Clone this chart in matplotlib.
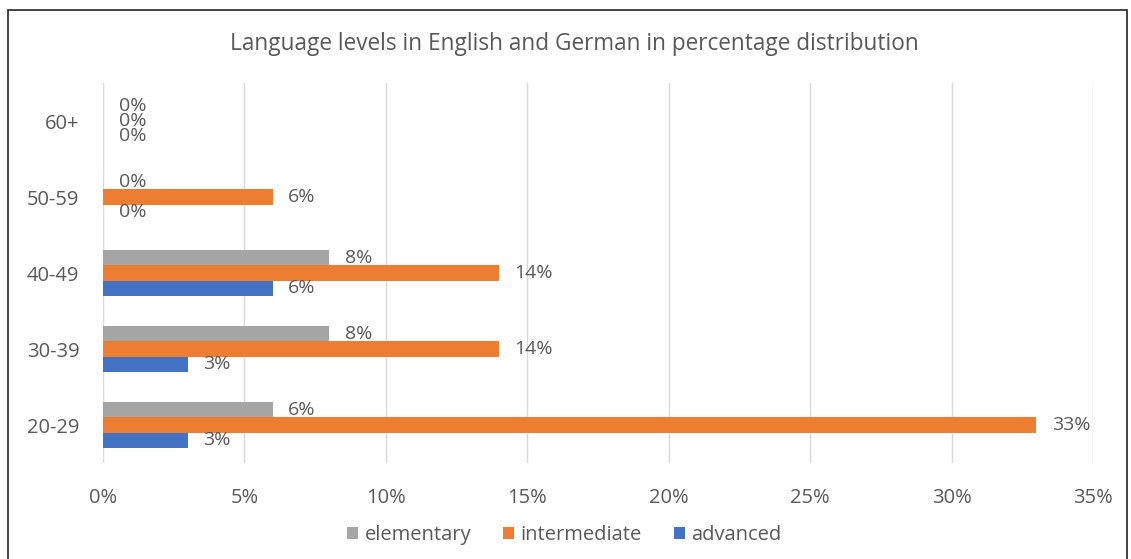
import matplotlib.pyplot as plt
import numpy as np

plt.rcParams['font.family'] = ['Open Sans', 'DejaVu Sans']

age_groups = ["20-29", "30-39", "40-49", "50-59", "60+"]
elementary = [6, 8, 8, 0, 0]
intermediate = [33, 14, 14, 6, 0]
advanced = [3, 3, 6, 0, 0]
x_ticks = [0, 5, 10, 15, 20, 25, 30, 35]

txt = "#595959"
fig = plt.figure(figsize=(11.31, 5.59), dpi=100)
ax = fig.add_axes([0.0911, 0.1717, 0.8753, 0.6798])

# outer frame of the chart
fig.patches.append(plt.Rectangle((8 / 1131, -0.01), 1119 / 1131, 1 - 10 / 559 + 0.01,
                                 transform=fig.transFigure, fill=False,
                                 edgecolor="#222222", linewidth=1.2))

y = np.arange(len(age_groups))
h = 0.2
series = [
    ("elementary", elementary, "#A5A5A5", h),
    ("intermediate", intermediate, "#ED7D31", 0),
    ("advanced", advanced, "#4472C4", -h),
]
for name, vals, col, off in series:
    bars = ax.barh(y + off, vals, height=h, color=col, label=name, zorder=3)
    for b, v in zip(bars, vals):
        ax.text(v + 0.55, b.get_y() + h / 2, f"{v}%", va="center", ha="left",
                fontsize=14, color=txt)

ax.set_xlim(0, 35)
ax.set_ylim(-0.5, len(age_groups) - 0.5)
ax.set_xticks(x_ticks)
ax.set_xticklabels([f"{t}%" for t in x_ticks], fontsize=14.5, color=txt)
ax.set_yticks(y)
ax.set_yticklabels(age_groups, fontsize=14.5, color=txt)
ax.tick_params(length=0)
ax.tick_params(axis="x", pad=18)
ax.tick_params(axis="y", pad=17)
ax.grid(axis="x", color="#D9D9D9", linewidth=1, zorder=0)
for s in ax.spines.values():
    s.set_visible(False)

fig.text(574 / 1131, 1 - 44 / 559,
         "Language levels in English and German in percentage distribution",
         fontsize=16.3, color=txt, ha="center", va="center")
ax.legend(loc="center", bbox_to_anchor=(0.466, -0.19), ncol=3, frameon=False,
          fontsize=14.5, handlelength=0.55, handleheight=0.55, handletextpad=0.3,
          columnspacing=1.6, labelcolor=txt)

fig.savefig("out.png", dpi=100)
